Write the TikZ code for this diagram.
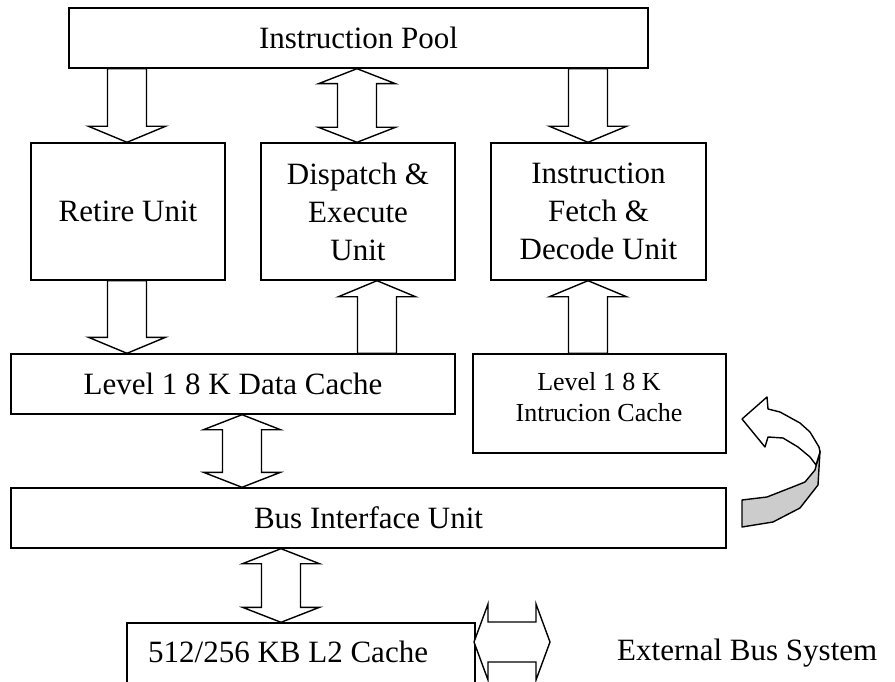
\documentclass[tikz,border=0pt]{standalone}
\usepackage{fontspec}
\setmainfont{Liberation Serif}
\usetikzlibrary{calc}
% single block arrow: #1 x (px), #2 start point, #3 end point (head at end)
\newcommand\blkone[3]{\draw[blk] let \p1=(#2), \p2=(#3), \n1={ifthenelse(\y2>\y1,-16,16)} in
  ({#1pt-19.5pt},\y1) -- ({#1pt-19.5pt},{\y2+\n1*1pt}) -- ({#1pt-38.5pt},{\y2+\n1*1pt}) -- (#1pt,\y2)
  -- ({#1pt+38.5pt},{\y2+\n1*1pt}) -- ({#1pt+19.5pt},{\y2+\n1*1pt}) -- ({#1pt+19.5pt},\y1) -- cycle;}
% double block arrow
\newcommand\blktwo[3]{\draw[blk] let \p1=(#2), \p2=(#3), \n1={ifthenelse(\y2>\y1,15,-15)} in
  (#1pt,\y1) -- ({#1pt+38.5pt},{\y1+\n1*1pt}) -- ({#1pt+19.5pt},{\y1+\n1*1pt}) -- ({#1pt+19.5pt},{\y2-\n1*1pt})
  -- ({#1pt+38.5pt},{\y2-\n1*1pt}) -- (#1pt,\y2) -- ({#1pt-38.5pt},{\y2-\n1*1pt}) -- ({#1pt-19.5pt},{\y2-\n1*1pt})
  -- ({#1pt-19.5pt},{\y1+\n1*1pt}) -- ({#1pt-38.5pt},{\y1+\n1*1pt}) -- cycle;}
\begin{document}
\begin{tikzpicture}[x=1pt,y=-1pt,
  box/.style={draw,line width=1.4pt,inner sep=0pt,align=center,font=\fontsize{31}{38}\selectfont},
  blk/.style={draw,line width=1.4pt,fill=white,line join=miter},
  txt/.style={inner sep=0pt,align=center,font=\fontsize{31}{38}\selectfont},
  smalltxt/.style={inner sep=0pt,align=center,font=\fontsize{26}{31}\selectfont}]
\useasboundingbox (0,0) rectangle (895,682);
\clip (0,0) rectangle (895,682);
\fill[white] (0,0) rectangle (895,682);

% boxes
\node[box,minimum width=579pt,minimum height=60pt] (pool) at (358.5,38) {Instruction Pool};
\node[box,minimum width=194pt,minimum height=137pt] (retire) at (128,211.5) {Retire Unit};
\node[box,minimum width=194pt,minimum height=137pt] (disp) at (358,211.5) {Dispatch \&\\Execute\\Unit};
\node[box,minimum width=215pt,minimum height=137pt] (fetch) at (598.5,211.5) {Instruction\\Fetch \&\\Decode Unit};
\node[box,minimum width=444pt,minimum height=60pt] (dcache) at (233,384) {Level 1 8 K Data Cache};
\node[box,minimum width=253pt,minimum height=99pt] (icache) at (599.5,403.5) {};
\node[smalltxt] (icachetxt) at (599,397) {Level 1 8 K\\Intrucion Cache};
\node[box,minimum width=715pt,minimum height=60pt] (bus) at (368.5,518) {Bus Interface Unit};
\node[box,minimum width=348pt,minimum height=77pt] (l2) at (301,661.5) {};
\node[txt,anchor=base west] (l2txt) at (148,662) {512/256 KB L2 Cache};
\node[txt,anchor=base west] (ext) at (617,660) {External Bus System};

% block arrows
\blkone{127}{pool.south}{retire.north}
\blktwo{357}{pool.south}{disp.north}
\blkone{588}{pool.south}{fetch.north}
\blkone{127}{retire.south}{dcache.north}
\blkone{377}{dcache.north}{disp.south}
\blkone{588}{icache.north}{fetch.south}
\blktwo{242}{dcache.south}{bus.north}
\blktwo{281}{bus.south}{l2.north}

% external bus arrow
\coordinate (extL) at (474,642);
\coordinate (extR) at (550,642);
\draw[blk] (extL) -- ($(extL)+(14,-38)$) -- ($(extL)+(14,-20)$) -- ($(extR)+(-14,-20)$) -- ($(extR)+(-14,-38)$)
  -- (extR) -- ($(extR)+(-14,38)$) -- ($(extR)+(-14,20)$) -- ($(extL)+(14,20)$) -- ($(extL)+(14,38)$) -- cycle;

% curved arrow
\draw[line width=1.4pt,fill=black!20,line join=round]
  (820,451) -- (815,470) -- (805,482) -- (790,488) -- (767,497) -- (742,500) -- (742,527)
  -- (773,522) -- (800,508) -- (818,485) -- cycle;
\draw[line width=1.4pt,fill=white,line join=round]
  (742,419) -- (767,397) -- (768,409) -- (780,412) -- (800,423) -- (810,432) -- (819,447) -- (820,452)
  -- (816,465) -- (810,457) -- (798,447) -- (783,438) -- (768,437) -- (765,447) -- cycle;
\end{tikzpicture}
\end{document}
